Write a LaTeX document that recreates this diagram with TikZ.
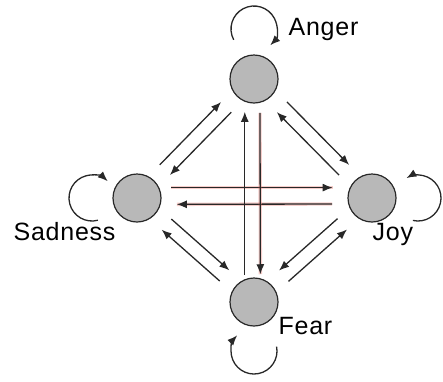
\documentclass[tikz,border=0pt]{standalone}
\usepackage{fontspec}
\setmainfont{Liberation Sans}[LetterSpace=3]
\usepackage{xcolor}
\usetikzlibrary{arrows.meta}
\definecolor{linegray}{RGB}{40,40,40}
\definecolor{nodegray}{RGB}{184,184,184}
\definecolor{halo}{RGB}{225,90,80}
\def\loopR{11.5pt}
\newcommand{\selfloop}[3]{%
% #1 = loop centre, #2 = start angle, #3 = end angle
\draw[->, linegray]
([shift={(#2:\loopR)}]#1)
arc[start angle=#2,end angle=#3,radius=\loopR];
}
\begin{document}
\begin{tikzpicture}[
    x=0.5pt, y=-0.5pt,
    line width=0.65pt,
    >={Latex[length=5pt,width=4pt]},
    emotion/.style={circle, draw=linegray, line width=0.6pt, fill=nodegray, minimum size=24pt, inner sep=0pt},
    tag/.style={font=\fontsize{12.5}{15}\selectfont, inner sep=0pt, anchor=base west},
    link/.style={->, linegray, shorten >=8pt, shorten <=8pt},
    redlink/.style={link, preaction={draw=halo, line width=1.7pt, opacity=0.3, -}}
]
\useasboundingbox (0,0) rectangle (443,381);
\node[emotion] (anger) at (254,79) {};
\node[emotion] (sad) at (137,198) {};
\node[emotion] (joy) at (372,198) {};
\node[emotion] (fear) at (254,302) {};
\node[tag] (angertxt) at (288,35) {Anger};
\node[tag] (sadtxt) at (13,240) {Sadness};
\node[tag] (joytxt) at (372,240) {Joy};
\node[tag] (feartxt) at (278,334) {Fear};
% sides of the diamond
\draw[link] (sad.62) -- (anger.208);
\draw[link] (anger.242) -- (sad.28);
\draw[link] (anger.332) -- (joy.118);
\draw[link] (joy.152) -- (anger.298);
\draw[link] (sad.335) -- (fear.121);
\draw[link] (fear.155) -- (sad.301);
\draw[link] (joy.204) -- (fear.58);
\draw[link] (fear.24) -- (joy.238);
% across
\draw[redlink, shorten <=6pt, shorten >=8.5pt] (sad.25) -- (joy.155);
\draw[redlink] (joy.194.5) -- (sad.345.5);
\draw[link, shorten <=2pt, shorten >=5pt] (fear.112) -- (anger.248);
\draw[redlink, shorten <=5pt, shorten >=2pt] (anger.284.5) -- (fear.75.5);
% loops
\coordinate (angerloop) at ([yshift=25pt]anger.center);
\coordinate (sadloop) at ([xshift=-22.5pt]sad.center);
\coordinate (joyloop) at ([xshift=23pt]joy.center);
\coordinate (fearloop) at ([yshift=-24.5pt]fear.center);
\selfloop{angerloop}{208}{-45}
\selfloop{sadloop}{-75}{-313}
\selfloop{joyloop}{257}{480}
\selfloop{fearloop}{11}{-223}
\end{tikzpicture}
\end{document}
